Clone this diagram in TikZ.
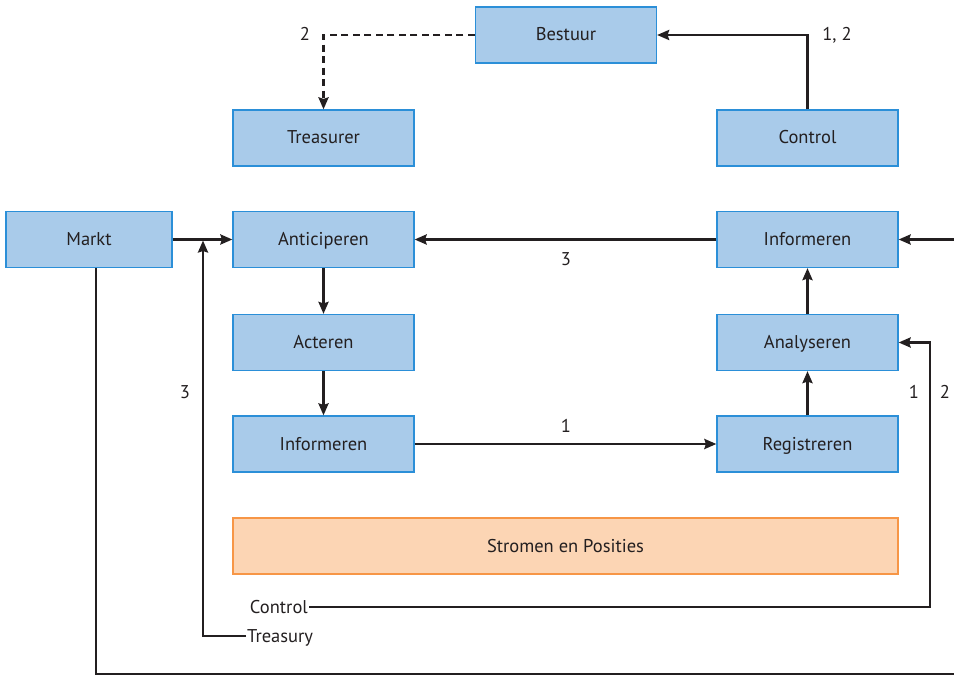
\documentclass[tikz,border=0pt]{standalone}
\usepackage{fontspec}
\setmainfont{PT Sans}
\usetikzlibrary{arrows.meta}
\definecolor{boxfill}{HTML}{A9CBEA}
\definecolor{boxline}{HTML}{2B8FD8}
\definecolor{orfill}{HTML}{FCD5B4}
\definecolor{orline}{HTML}{F79646}
\definecolor{ink}{HTML}{231F20}
\begin{document}
\begin{tikzpicture}[x=1pt,y=-1pt,
  bx/.style={draw=boxline,fill=boxfill,line width=1.2pt,minimum width=181pt,minimum height=56pt,inner sep=0pt,font=\fontsize{18.5}{22}\selectfont,text=ink,text height=13pt,text depth=1pt},
  conn/.style={draw=ink,line width=2.8pt},
  arr/.style={conn,-{Stealth[length=12pt,width=10pt,inset=1.5pt]}},
  lbl/.style={font=\fontsize{18.5}{22}\selectfont,text=ink,inner sep=1pt,text height=13pt,text depth=1pt}]
\useasboundingbox (0,0) rectangle (954,676);
\clip (0,0) rectangle (954,676);
\node[bx] (bestuur) at (566,35) {Bestuur};
\node[bx] (treasurer) at (323.5,138) {Treasurer};
\node[bx] (control) at (807.5,138) {Control};
\node[bx,minimum width=166pt] (markt) at (89,239.5) {Markt};
\node[bx] (antic) at (323.5,239.5) {Anticiperen};
\node[bx] (infR) at (807.5,239.5) {Informeren};
\node[bx] (acteren) at (323.5,342.5) {Acteren};
\node[bx] (analys) at (807.5,342.5) {Analyseren};
\node[bx] (infL) at (323.5,444) {Informeren};
\node[bx] (regis) at (807.5,444) {Registreren};
\node[bx,draw=orline,fill=orfill,minimum width=665pt] (stromen) at (565.5,546) {Stromen en Posities};
\node[lbl,anchor=east] (tcontrol) at (309,607) {Control};
\node[lbl,anchor=west] (ttreasury) at (246,636) {Treasury};
\coordinate (redge) at (960,239.5);
% dashed Bestuur -> Treasurer
\draw[arr,dashed,dash pattern=on 7pt off 4.5pt] (bestuur.west) -| (treasurer.north);
\node[lbl] (l2a) at (305,35) {2};
% Control -> Bestuur
\draw[arr] (control.north) |- (bestuur.east);
\node[lbl] (l12) at (837,35) {1, 2};
% Markt -> Anticiperen
\draw[arr] (markt.east) -- (antic.west);
% vertical chains
\draw[arr] (antic.south) -- (acteren.north);
\draw[arr] (acteren.south) -- (infL.north);
\draw[arr] (infL.east) -- (regis.west);
\node[lbl] (l1) at (566,426) {1};
\draw[arr] (regis.north) -- (analys.south);
\draw[arr] (analys.north) -- (infR.south);
\draw[arr] (infR.west) -- (antic.east);
\node[lbl] (l3) at (566,260) {3};
% Treasury feedback
\draw[arr] (ttreasury.west) -| (203,240.5);
\node[lbl] (l3b) at (185,393) {3};
% Control feedback
\draw[arr] (tcontrol.east) -| (930,342.5) -- (analys.east);
\node[lbl] (l1b) at (914,393) {1};
\node[lbl] (l2b) at (945,393) {2};
% Markt bottom loop
\draw[conn] (96,268) -- (96,674) -- (960,674);
\draw[arr] (redge) -- (infR.east);
\end{tikzpicture}
\end{document}
